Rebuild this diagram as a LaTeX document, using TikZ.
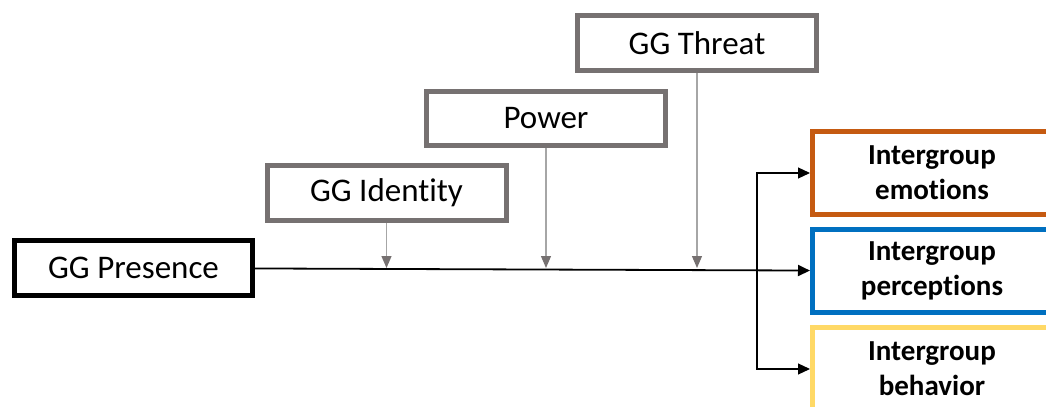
\documentclass[tikz,border=0pt]{standalone}
\usepackage{fontspec}
\setmainfont[Ligatures=NoCommon]{Carlito}
\usetikzlibrary{arrows.meta}
\definecolor{boxgray}{HTML}{767171}
\definecolor{linegray}{HTML}{A6A6A6}
\definecolor{emoorange}{HTML}{C55A11}
\definecolor{percblue}{HTML}{0070C0}
\definecolor{behyellow}{HTML}{FFD966}

\begin{document}
\begin{tikzpicture}[x=0.5pt,y=-0.5pt,
  predictor/.style={draw,line width=2.5pt,inner sep=0pt,minimum width=119pt,minimum height=27.25pt,font=\fontsize{16.5}{20}\selectfont},
  moderator/.style={predictor,draw=boxgray,minimum width=119.5pt},
  outcome/.style={draw,line width=2.5pt,inner sep=0pt,minimum width=119.5pt,minimum height=41.75pt,align=center,font=\bfseries\fontsize{14.5}{17.5}\selectfont},
  modarrow/.style={draw=linegray,line width=0.6pt,-{Triangle[width=5pt,length=6pt,color=boxgray]}},
  mainarrow/.style={line width=0.9pt,-{Triangle[width=5.5pt,length=6pt]}}]
\useasboundingbox (0,0) rectangle (1046,407);
\clip (0,0) rectangle (1046,407);
% boxes
\node[predictor] (pres) at (133.5,268) {GG Presence};
\node[moderator] (ident) at (386.5,193) {GG Identity};
\node[moderator] (power) at (546,118.5) {Power};
\node[moderator] (threat) at (697,43) {GG Threat};
\node[outcome,draw=emoorange] (emo) at (932,173) {Intergroup\\emotions};
\node[outcome,draw=percblue] (perc) at (932,271) {Intergroup\\perceptions};
\node[outcome,draw=behyellow] (beh) at (932,369) {Intergroup\\behavior};
% main path and branches
\draw[mainarrow] (pres) -- (perc);
\coordinate (split) at (757,270);
\draw[mainarrow,line width=0.6pt] (split) |- (emo.west);
\draw[mainarrow,line width=0.6pt] (split) |- (beh.west);
% moderators
\draw[modarrow] (ident) -- (ident |- pres);
\draw[modarrow] (power) -- (power |- pres);
\draw[modarrow] (threat) -- (threat |- pres);
\end{tikzpicture}
\end{document}
